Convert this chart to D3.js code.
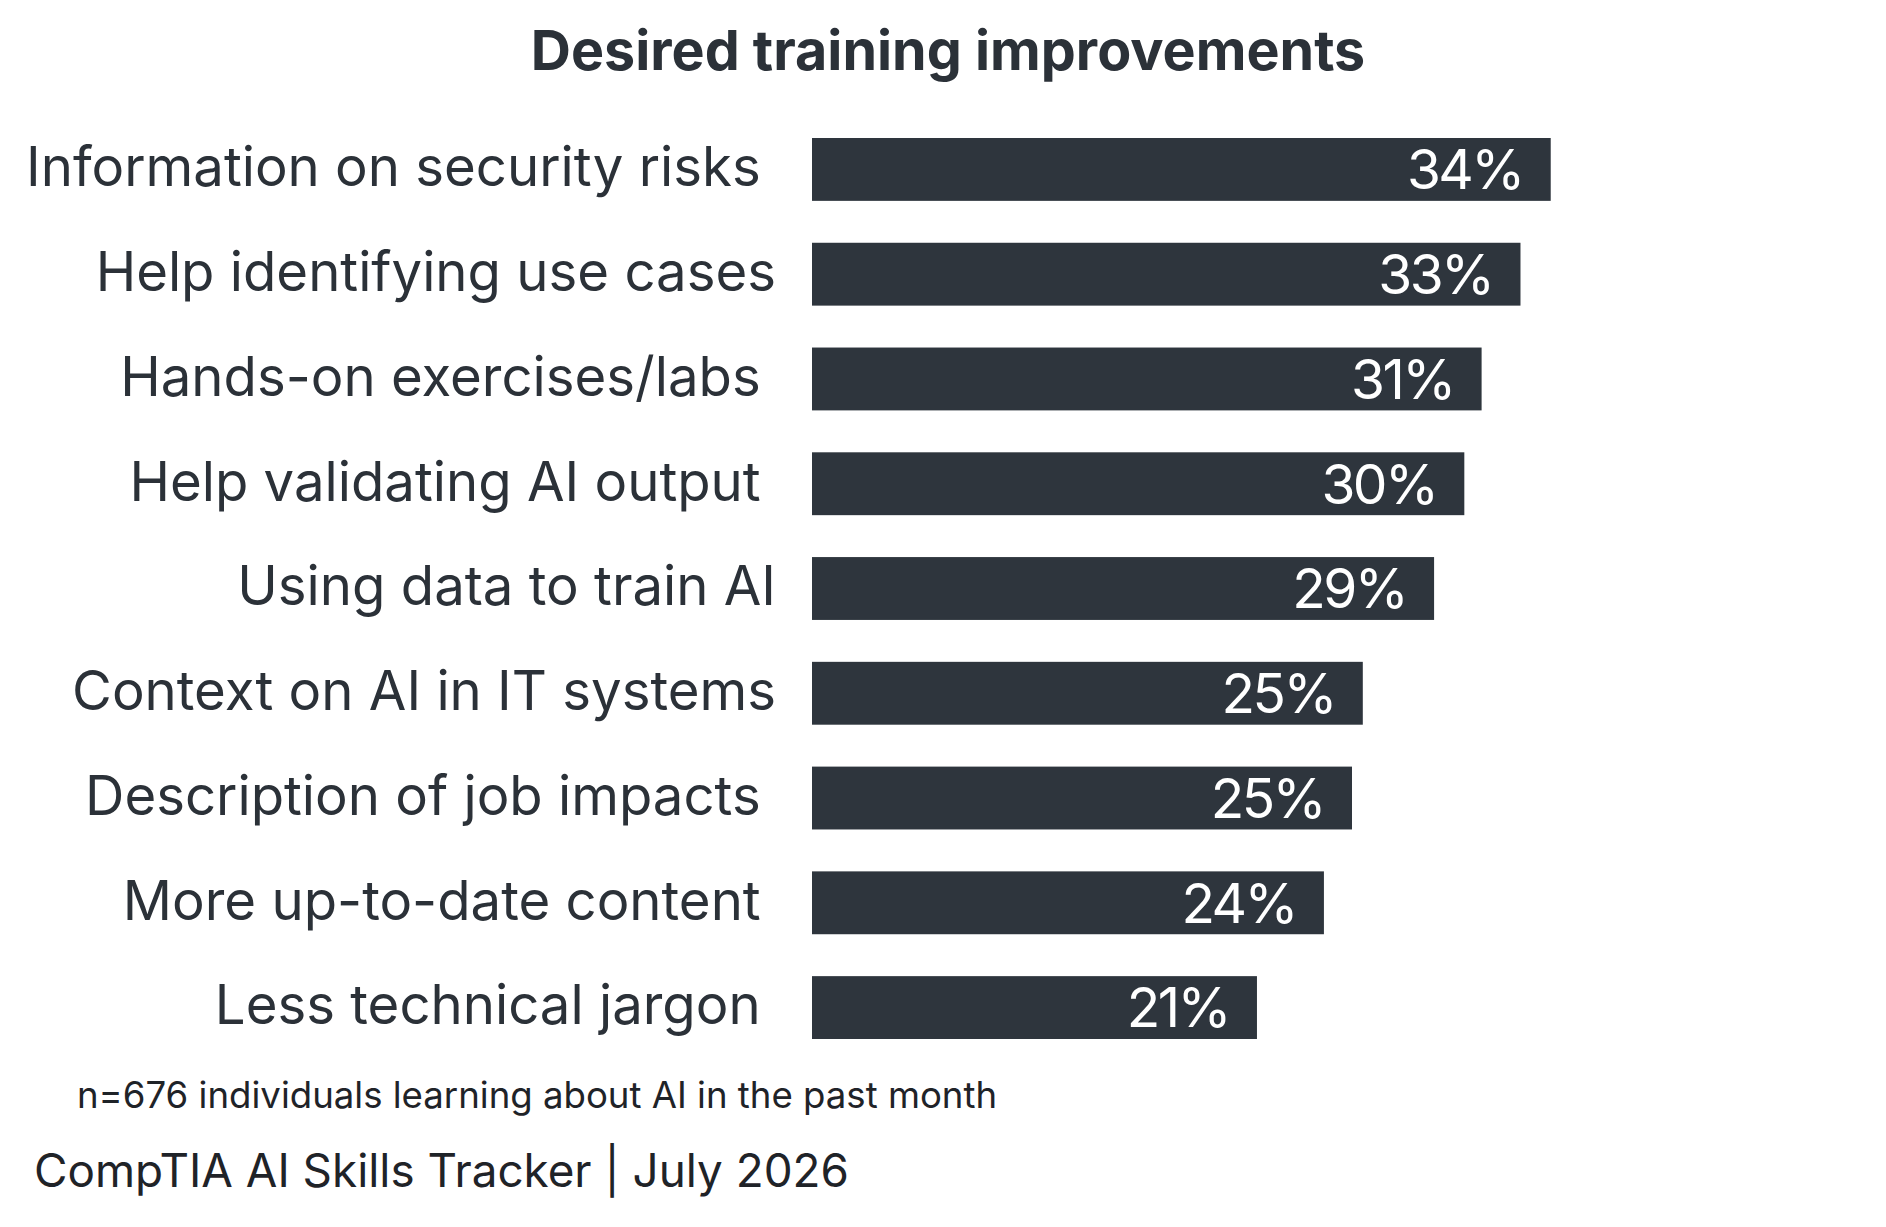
<!DOCTYPE html>
<html>
<head>
<meta charset="utf-8">
<script src="https://cdn.jsdelivr.net/npm/d3@7"></script>
<style>
  body { margin: 0; background: #fff; }
  svg text { font-family: Inter, "Noto Sans", sans-serif; white-space: pre; }
</style>
</head>
<body>
<div id="chart"></div>
<script>
// data
var categories = [
    "Information on security risks ",
    "Help identifying use cases",
    "Hands-on exercises/labs ",
    "Help validating AI output ",
    "Using data to train AI",
    "Context on AI in IT systems",
    "Description of job impacts ",
    "More up-to-date content ",
    "Less technical jargon "
];
var values = [34.2, 32.8, 31.0, 30.2, 28.8, 25.5, 25.0, 23.7, 20.6];
var valueLabels = ["34%", "33%", "31%", "30%", "29%", "25%", "25%", "24%", "21%"];

var title = "Desired training improvements";
var note = "n=676 individuals learning about AI in the past month";
var source = "CompTIA AI Skills Tracker | July 2026";

var W = 1886, H = 1227;
var margin = {top: 138, left: 812, bottom: 188};
var barColor = "#2e353d";
var textColor = "#2b3138";

var svg = d3.select("#chart")
    .append("svg")
        .attr("width", W)
        .attr("height", H);

var x = d3.scaleLinear()
    .domain([0, 40])
    .range([margin.left, margin.left + 864]);

var y = d3.scaleBand()
    .domain(categories)
    .range([margin.top, H - margin.bottom])
    .paddingInner(0.4)
    .paddingOuter(0);

// title
svg.append("text")
    .attr("x", 948)
    .attr("y", 70)
    .attr("text-anchor", "middle")
    .style("font-size", "55.6px")
    .style("font-weight", "700")
    .style("fill", textColor)
    .text(title);

// bars
svg.append("g")
    .selectAll("rect")
    .data(categories)
    .enter()
    .append("rect")
        .attr("x", x(0))
        .attr("y", function(d) { return y(d); })
        .attr("width", function(d, i) { return x(values[i]) - x(0); })
        .attr("height", y.bandwidth())
        .style("fill", barColor);

// value labels inside bars
svg.append("g")
    .selectAll("text")
    .data(categories)
    .enter()
    .append("text")
        .attr("x", function(d, i) { return x(values[i]) - 28; })
        .attr("y", function(d) { return y(d) + y.bandwidth() / 2; })
        .attr("dy", "0.36em")
        .attr("text-anchor", "end")
        .style("font-size", "55px")
        .style("letter-spacing", "-2.6px")
        .style("fill", "#ffffff")
        .text(function(d, i) { return valueLabels[i]; });

// category labels
svg.append("g")
    .selectAll("text")
    .data(categories)
    .enter()
    .append("text")
        .attr("x", x(0) - 36)
        .attr("y", function(d) { return y(d) + y.bandwidth() / 2; })
        .attr("dy", "0.31em")
        .attr("text-anchor", "end")
        .style("font-size", "54.5px")
        .style("fill", textColor)
        .text(function(d) { return d; });

// footnote + source
svg.append("text")
    .attr("x", 77)
    .attr("y", 1108)
    .style("font-size", "36.6px")
    .style("fill", "#1f2328")
    .text(note);

svg.append("text")
    .attr("x", 34)
    .attr("y", 1187)
    .style("font-size", "45.8px")
    .style("fill", "#1f2328")
    .text(source);
</script>
</body>
</html>
